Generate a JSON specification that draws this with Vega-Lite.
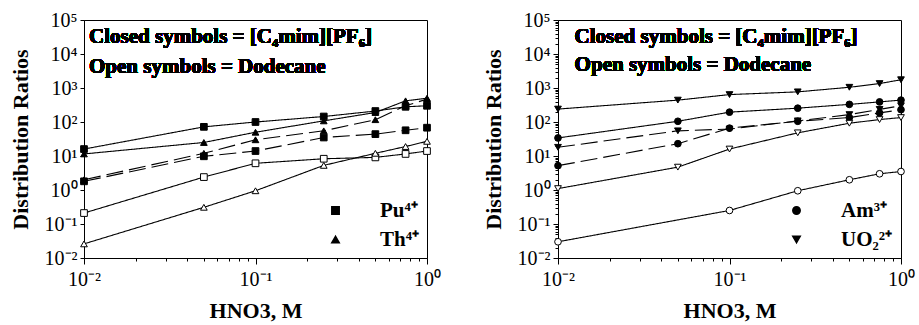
{
  "$schema": "https://vega.github.io/schema/vega-lite/v6.json",
  "background": "white",
  "padding": {"left": 8, "top": 9, "right": 8, "bottom": 0},
  "config": {
    "view": {"stroke": "black", "strokeWidth": 1},
    "axis": {
      "labelFont": "Liberation Serif", "labelFontSize": 20, "labelColor": "black",
      "titleFont": "Liberation Serif", "titleFontWeight": "bold", "titleFontSize": 22, "titleColor": "black",
      "domainColor": "black", "tickColor": "black", "grid": false, "labelOverlap": false, "labelBound": false, "labelFlush": false
    },
    "legend": {"labelFont": "Liberation Serif", "labelFontWeight": "bold", "labelFontSize": 21, "labelColor": "black"}
  },
  "datasets": {
    "pts": [
      {"p":"L","ion":"Pu⁴⁺","ph":"IL","c":"PuA","ls":"solid","x":0.01,"y":16},
      {"p":"L","ion":"Pu⁴⁺","ph":"IL","c":"PuA","ls":"solid","x":0.05,"y":72},
      {"p":"L","ion":"Pu⁴⁺","ph":"IL","c":"PuA","ls":"solid","x":0.1,"y":100},
      {"p":"L","ion":"Pu⁴⁺","ph":"IL","c":"PuA","ls":"solid","x":0.25,"y":145},
      {"p":"L","ion":"Pu⁴⁺","ph":"IL","c":"PuA","ls":"solid","x":0.5,"y":210},
      {"p":"L","ion":"Pu⁴⁺","ph":"IL","c":"PuA","ls":"solid","x":0.75,"y":280},
      {"p":"L","ion":"Pu⁴⁺","ph":"IL","c":"PuA","ls":"solid","x":1,"y":300},
      {"p":"L","ion":"Th⁴⁺","ph":"IL","c":"ThA","ls":"solid","x":0.01,"y":11.5},
      {"p":"L","ion":"Th⁴⁺","ph":"IL","c":"ThA","ls":"solid","x":0.05,"y":25},
      {"p":"L","ion":"Th⁴⁺","ph":"IL","c":"ThA","ls":"solid","x":0.1,"y":50},
      {"p":"L","ion":"Th⁴⁺","ph":"IL","c":"ThA","ls":"solid","x":0.25,"y":108},
      {"p":"L","ion":"Th⁴⁺","ph":"IL","c":"ThA","ls":"solid","x":0.5,"y":190},
      {"p":"L","ion":"Th⁴⁺","ph":"IL","c":"ThA","ls":"solid","x":0.75,"y":420},
      {"p":"L","ion":"Th⁴⁺","ph":"IL","c":"ThA","ls":"solid","x":1,"y":500},
      {"p":"L","ion":"Th⁴⁺","ph":"IL","c":"ThB","ls":"dashed","x":0.01,"y":2.0},
      {"p":"L","ion":"Th⁴⁺","ph":"IL","c":"ThB","ls":"dashed","x":0.05,"y":12},
      {"p":"L","ion":"Th⁴⁺","ph":"IL","c":"ThB","ls":"dashed","x":0.1,"y":30},
      {"p":"L","ion":"Th⁴⁺","ph":"IL","c":"ThB","ls":"dashed","x":0.25,"y":55},
      {"p":"L","ion":"Th⁴⁺","ph":"IL","c":"ThB","ls":"dashed","x":0.5,"y":117},
      {"p":"L","ion":"Th⁴⁺","ph":"IL","c":"ThB","ls":"dashed","x":0.75,"y":300},
      {"p":"L","ion":"Th⁴⁺","ph":"IL","c":"ThB","ls":"dashed","x":1,"y":470},
      {"p":"L","ion":"Pu⁴⁺","ph":"IL","c":"PuB","ls":"dashed","x":0.01,"y":1.8},
      {"p":"L","ion":"Pu⁴⁺","ph":"IL","c":"PuB","ls":"dashed","x":0.05,"y":9.8},
      {"p":"L","ion":"Pu⁴⁺","ph":"IL","c":"PuB","ls":"dashed","x":0.1,"y":14},
      {"p":"L","ion":"Pu⁴⁺","ph":"IL","c":"PuB","ls":"dashed","x":0.25,"y":35},
      {"p":"L","ion":"Pu⁴⁺","ph":"IL","c":"PuB","ls":"dashed","x":0.5,"y":44},
      {"p":"L","ion":"Pu⁴⁺","ph":"IL","c":"PuB","ls":"dashed","x":0.75,"y":57},
      {"p":"L","ion":"Pu⁴⁺","ph":"IL","c":"PuB","ls":"dashed","x":1,"y":68},
      {"p":"L","ion":"Pu⁴⁺","ph":"D","c":"PuD","ls":"solid","x":0.01,"y":0.21},
      {"p":"L","ion":"Pu⁴⁺","ph":"D","c":"PuD","ls":"solid","x":0.05,"y":2.4},
      {"p":"L","ion":"Pu⁴⁺","ph":"D","c":"PuD","ls":"solid","x":0.1,"y":6.1},
      {"p":"L","ion":"Pu⁴⁺","ph":"D","c":"PuD","ls":"solid","x":0.25,"y":8.3},
      {"p":"L","ion":"Pu⁴⁺","ph":"D","c":"PuD","ls":"solid","x":0.5,"y":9.1},
      {"p":"L","ion":"Pu⁴⁺","ph":"D","c":"PuD","ls":"solid","x":0.75,"y":11.5},
      {"p":"L","ion":"Pu⁴⁺","ph":"D","c":"PuD","ls":"solid","x":1,"y":14},
      {"p":"L","ion":"Th⁴⁺","ph":"D","c":"ThD","ls":"solid","x":0.01,"y":0.026},
      {"p":"L","ion":"Th⁴⁺","ph":"D","c":"ThD","ls":"solid","x":0.05,"y":0.31},
      {"p":"L","ion":"Th⁴⁺","ph":"D","c":"ThD","ls":"solid","x":0.1,"y":0.95},
      {"p":"L","ion":"Th⁴⁺","ph":"D","c":"ThD","ls":"solid","x":0.25,"y":5.3},
      {"p":"L","ion":"Th⁴⁺","ph":"D","c":"ThD","ls":"solid","x":0.5,"y":12},
      {"p":"L","ion":"Th⁴⁺","ph":"D","c":"ThD","ls":"solid","x":0.75,"y":19},
      {"p":"L","ion":"Th⁴⁺","ph":"D","c":"ThD","ls":"solid","x":1,"y":27},
      {"p":"R","ion":"UO₂²⁺","ph":"IL","c":"UA","ls":"solid","x":0.01,"y":240},
      {"p":"R","ion":"UO₂²⁺","ph":"IL","c":"UA","ls":"solid","x":0.05,"y":440},
      {"p":"R","ion":"UO₂²⁺","ph":"IL","c":"UA","ls":"solid","x":0.1,"y":640},
      {"p":"R","ion":"UO₂²⁺","ph":"IL","c":"UA","ls":"solid","x":0.25,"y":770},
      {"p":"R","ion":"UO₂²⁺","ph":"IL","c":"UA","ls":"solid","x":0.5,"y":1050},
      {"p":"R","ion":"UO₂²⁺","ph":"IL","c":"UA","ls":"solid","x":0.75,"y":1350},
      {"p":"R","ion":"UO₂²⁺","ph":"IL","c":"UA","ls":"solid","x":1,"y":1750},
      {"p":"R","ion":"Am³⁺","ph":"IL","c":"AmA","ls":"solid","x":0.01,"y":34},
      {"p":"R","ion":"Am³⁺","ph":"IL","c":"AmA","ls":"solid","x":0.05,"y":105},
      {"p":"R","ion":"Am³⁺","ph":"IL","c":"AmA","ls":"solid","x":0.1,"y":195},
      {"p":"R","ion":"Am³⁺","ph":"IL","c":"AmA","ls":"solid","x":0.25,"y":255},
      {"p":"R","ion":"Am³⁺","ph":"IL","c":"AmA","ls":"solid","x":0.5,"y":330},
      {"p":"R","ion":"Am³⁺","ph":"IL","c":"AmA","ls":"solid","x":0.75,"y":390},
      {"p":"R","ion":"Am³⁺","ph":"IL","c":"AmA","ls":"solid","x":1,"y":440},
      {"p":"R","ion":"UO₂²⁺","ph":"IL","c":"UB","ls":"dashed","x":0.01,"y":18},
      {"p":"R","ion":"UO₂²⁺","ph":"IL","c":"UB","ls":"dashed","x":0.05,"y":55},
      {"p":"R","ion":"UO₂²⁺","ph":"IL","c":"UB","ls":"dashed","x":0.1,"y":62},
      {"p":"R","ion":"UO₂²⁺","ph":"IL","c":"UB","ls":"dashed","x":0.25,"y":108},
      {"p":"R","ion":"UO₂²⁺","ph":"IL","c":"UB","ls":"dashed","x":0.5,"y":165},
      {"p":"R","ion":"UO₂²⁺","ph":"IL","c":"UB","ls":"dashed","x":0.75,"y":235},
      {"p":"R","ion":"UO₂²⁺","ph":"IL","c":"UB","ls":"dashed","x":1,"y":300},
      {"p":"R","ion":"Am³⁺","ph":"IL","c":"AmB","ls":"dashed","x":0.01,"y":5.2},
      {"p":"R","ion":"Am³⁺","ph":"IL","c":"AmB","ls":"dashed","x":0.05,"y":23},
      {"p":"R","ion":"Am³⁺","ph":"IL","c":"AmB","ls":"dashed","x":0.1,"y":66},
      {"p":"R","ion":"Am³⁺","ph":"IL","c":"AmB","ls":"dashed","x":0.25,"y":105},
      {"p":"R","ion":"Am³⁺","ph":"IL","c":"AmB","ls":"dashed","x":0.5,"y":135},
      {"p":"R","ion":"Am³⁺","ph":"IL","c":"AmB","ls":"dashed","x":0.75,"y":185},
      {"p":"R","ion":"Am³⁺","ph":"IL","c":"AmB","ls":"dashed","x":1,"y":230},
      {"p":"R","ion":"UO₂²⁺","ph":"D","c":"UD","ls":"solid","x":0.01,"y":1.1},
      {"p":"R","ion":"UO₂²⁺","ph":"D","c":"UD","ls":"solid","x":0.05,"y":4.7},
      {"p":"R","ion":"UO₂²⁺","ph":"D","c":"UD","ls":"solid","x":0.1,"y":16},
      {"p":"R","ion":"UO₂²⁺","ph":"D","c":"UD","ls":"solid","x":0.25,"y":48},
      {"p":"R","ion":"UO₂²⁺","ph":"D","c":"UD","ls":"solid","x":0.5,"y":92},
      {"p":"R","ion":"UO₂²⁺","ph":"D","c":"UD","ls":"solid","x":0.75,"y":118},
      {"p":"R","ion":"UO₂²⁺","ph":"D","c":"UD","ls":"solid","x":1,"y":135},
      {"p":"R","ion":"Am³⁺","ph":"D","c":"AmD","ls":"solid","x":0.01,"y":0.03},
      {"p":"R","ion":"Am³⁺","ph":"D","c":"AmD","ls":"solid","x":0.1,"y":0.25},
      {"p":"R","ion":"Am³⁺","ph":"D","c":"AmD","ls":"solid","x":0.25,"y":0.95},
      {"p":"R","ion":"Am³⁺","ph":"D","c":"AmD","ls":"solid","x":0.5,"y":2.0},
      {"p":"R","ion":"Am³⁺","ph":"D","c":"AmD","ls":"solid","x":0.75,"y":3.0},
      {"p":"R","ion":"Am³⁺","ph":"D","c":"AmD","ls":"solid","x":1,"y":3.5}
    ]
  },
  "spacing": 40,
  "resolve": {"scale": {"shape": "independent"}, "legend": {"shape": "independent"}},
  "hconcat": [
    {
      "width": 343, "height": 238,
      "data": {"name": "pts"},
      "transform": [{"filter": "datum.p == 'L'"}],
      "encoding": {
        "x": {"field": "x", "type": "quantitative", "title": "HNO3, M",
          "scale": {"type": "log", "domain": [0.01, 1], "nice": false},
          "axis": {"values": [0.01,0.02,0.03,0.04,0.05,0.06,0.07,0.08,0.09,0.1,0.2,0.3,0.4,0.5,0.6,0.7,0.8,0.9,1],
            "labelExpr": "abs(log(datum.value)/LN10 - round(log(datum.value)/LN10)) < 0.001 ? ['10⁻²','10⁻¹','10⁰'][round(log(datum.value)/LN10)+2] : ''",
            "tickSize": {"condition": {"test": "abs(log(datum.value)/LN10 - round(log(datum.value)/LN10)) < 0.001", "value": 6}, "value": 3},
            "labelPadding": 5, "titlePadding": 11}},
        "y": {"field": "y", "type": "quantitative", "title": "Distribution Ratios",
          "scale": {"type": "log", "domain": [0.01, 100000], "nice": false},
          "axis": {"values": [0.01,0.1,1,10,100,1000,10000,100000],
            "labelExpr": "['10⁻²','10⁻¹','10⁰','10¹','10²','10³','10⁴','10⁵'][round(log(datum.value)/LN10)+2]",
            "tickSize": 4, "labelPadding": 3, "titlePadding": 12}}
      },
      "layer": [
        {"mark": {"type": "line", "color": "black", "strokeWidth": 1.1},
         "encoding": {"detail": {"field": "c"},
           "strokeDash": {"field": "ls", "scale": {"domain": ["solid", "dashed"], "range": [[1, 0], [17, 6]]}, "legend": null}}},
        {"mark": {"type": "point", "filled": true, "stroke": "black", "strokeWidth": 1, "size": 45, "opacity": 1},
         "encoding": {
           "shape": {"field": "ion", "scale": {"domain": ["Pu⁴⁺", "Th⁴⁺"], "range": ["square", "triangle-up"]},
             "legend": {"orient": "bottom-right", "title": null, "symbolFillColor": "black", "symbolStrokeColor": "black", "symbolSize": 55, "labelOffset": 34, "rowPadding": 7, "offset": 8}},
           "fill": {"field": "ph", "scale": {"domain": ["IL", "D"], "range": ["black", "white"]}, "legend": null}}},
        {"mark": {"type": "text", "align": "left", "baseline": "middle", "font": "Liberation Serif", "fontWeight": "bold", "fontSize": 21, "color": "black"},
         "encoding": {"x": {"datum": 0.0107}, "y": {"datum": 32000}, "text": {"value": "Closed symbols = [C₄mim][PF₆]"}}},
        {"mark": {"type": "text", "align": "left", "baseline": "middle", "font": "Liberation Serif", "fontWeight": "bold", "fontSize": 21, "color": "black"},
         "encoding": {"x": {"datum": 0.0107}, "y": {"datum": 4100}, "text": {"value": "Open symbols = Dodecane"}}}
      ]
    },
    {
      "width": 343, "height": 238,
      "data": {"name": "pts"},
      "transform": [{"filter": "datum.p == 'R'"}],
      "encoding": {
        "x": {"field": "x", "type": "quantitative", "title": "HNO3, M",
          "scale": {"type": "log", "domain": [0.01, 1], "nice": false},
          "axis": {"values": [0.01,0.02,0.03,0.04,0.05,0.06,0.07,0.08,0.09,0.1,0.2,0.3,0.4,0.5,0.6,0.7,0.8,0.9,1],
            "labelExpr": "abs(log(datum.value)/LN10 - round(log(datum.value)/LN10)) < 0.001 ? ['10⁻²','10⁻¹','10⁰'][round(log(datum.value)/LN10)+2] : ''",
            "tickSize": {"condition": {"test": "abs(log(datum.value)/LN10 - round(log(datum.value)/LN10)) < 0.001", "value": 6}, "value": 3},
            "labelPadding": 5, "titlePadding": 11}},
        "y": {"field": "y", "type": "quantitative", "title": "Distribution Ratios",
          "scale": {"type": "log", "domain": [0.01, 100000], "nice": false},
          "axis": {"values": [0.01,0.02,0.03,0.04,0.05,0.06,0.07,0.08,0.09,0.1,0.2,0.3,0.4,0.5,0.6,0.7,0.8,0.9,1,2,3,4,5,6,7,8,9,10,20,30,40,50,60,70,80,90,100,200,300,400,500,600,700,800,900,1000,2000,3000,4000,5000,6000,7000,8000,9000,10000,20000,30000,40000,50000,60000,70000,80000,90000,100000],
            "labelExpr": "abs(log(datum.value)/LN10 - round(log(datum.value)/LN10)) < 0.001 ? ['10⁻²','10⁻¹','10⁰','10¹','10²','10³','10⁴','10⁵'][round(log(datum.value)/LN10)+2] : ''",
            "tickSize": {"condition": {"test": "abs(log(datum.value)/LN10 - round(log(datum.value)/LN10)) < 0.001", "value": 5}, "value": 3},
            "labelPadding": 3, "titlePadding": 12}}
      },
      "layer": [
        {"mark": {"type": "line", "color": "black", "strokeWidth": 1.1},
         "encoding": {"detail": {"field": "c"},
           "strokeDash": {"field": "ls", "scale": {"domain": ["solid", "dashed"], "range": [[1, 0], [17, 6]]}, "legend": null}}},
        {"mark": {"type": "point", "filled": true, "stroke": "black", "strokeWidth": 1, "size": 45, "opacity": 1},
         "encoding": {
           "shape": {"field": "ion", "scale": {"domain": ["Am³⁺", "UO₂²⁺"], "range": ["circle", "triangle-down"]},
             "legend": {"orient": "bottom-right", "title": null, "symbolFillColor": "black", "symbolStrokeColor": "black", "symbolSize": 55, "labelOffset": 34, "rowPadding": 7, "offset": 8}},
           "fill": {"field": "ph", "scale": {"domain": ["IL", "D"], "range": ["black", "white"]}, "legend": null}}},
        {"mark": {"type": "text", "align": "left", "baseline": "middle", "font": "Liberation Serif", "fontWeight": "bold", "fontSize": 21, "color": "black"},
         "encoding": {"x": {"datum": 0.0125}, "y": {"datum": 32000}, "text": {"value": "Closed symbols = [C₄mim][PF₆]"}}},
        {"mark": {"type": "text", "align": "left", "baseline": "middle", "font": "Liberation Serif", "fontWeight": "bold", "fontSize": 21, "color": "black"},
         "encoding": {"x": {"datum": 0.0125}, "y": {"datum": 4600}, "text": {"value": "Open symbols = Dodecane"}}}
      ]
    }
  ]
}
